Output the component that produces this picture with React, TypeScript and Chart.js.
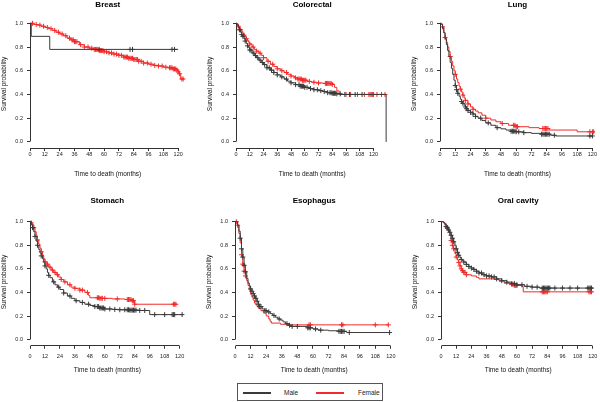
import React, { useEffect, useRef } from 'react';
import { Chart, registerables } from 'chart.js';

Chart.register(...registerables);

const FONT = '"Liberation Sans", Arial, Helvetica, sans-serif';
const MALE_COLOR = '#3a3a3a';
const FEMALE_COLOR = '#f22a2a';

const xTickValues = [0, 12, 24, 36, 48, 60, 72, 84, 96, 108, 120];
const yTickValues = [0, 0.2, 0.4, 0.6, 0.8, 1.0];
const panelTitles = ['Breast', 'Colorectal', 'Lung', 'Stomach', 'Esophagus', 'Oral cavity'];
const groupLabels = ['Male', 'Female'];
const xAxisTitle = 'Time to death (months)';
const yAxisTitle = 'Survival probability';

// ---- Breast ----
const breastMaleTime = [0, 1, 16, 120];
const breastMaleSurv = [1, 0.89, 0.78, 0.78];
const breastMaleCensor = [56, 81, 83, 115, 117];
const breastFemaleTime = [0, 3, 6, 9, 12, 15, 18, 21, 24, 27, 30, 33, 36, 40, 44, 48, 52, 56, 60, 64, 68, 72, 76, 80, 84, 88, 92, 96, 100, 104, 108, 112, 116, 119, 120, 121, 122, 124];
const breastFemaleSurv = [1, 0.99, 0.985, 0.975, 0.965, 0.955, 0.94, 0.925, 0.91, 0.895, 0.875, 0.86, 0.845, 0.82, 0.8, 0.79, 0.78, 0.77, 0.76, 0.75, 0.74, 0.73, 0.715, 0.705, 0.695, 0.68, 0.665, 0.655, 0.645, 0.64, 0.63, 0.625, 0.615, 0.605, 0.59, 0.575, 0.53, 0.53];
const breastFemaleCensor = [2, 5, 8, 11, 14, 17, 20, 23, 26, 29, 32, 34, 35, 36, 37, 38, 41, 44, 47, 50, 52, 53, 54, 55, 56, 57, 58, 59, 60, 62, 64, 66, 68, 70, 72, 74, 76, 77, 78, 79, 80, 81, 82, 83, 84, 85, 86, 87, 88, 90, 92, 95, 98, 101, 104, 107, 110, 113, 114, 115, 116, 117, 118, 119, 120, 121, 123, 124];

// ---- Colorectal ----
const colorectalMaleTime = [0, 1, 2, 3, 4, 5, 6, 7, 8, 9, 10, 11, 12, 14, 16, 18, 20, 22, 24, 27, 30, 33, 36, 39, 42, 45, 48, 52, 56, 60, 64, 68, 72, 76, 80, 84, 88, 92, 131];
const colorectalMaleSurv = [1, 0.985, 0.965, 0.945, 0.925, 0.905, 0.89, 0.87, 0.85, 0.83, 0.81, 0.795, 0.775, 0.75, 0.728, 0.71, 0.69, 0.67, 0.652, 0.625, 0.605, 0.585, 0.565, 0.548, 0.53, 0.512, 0.498, 0.483, 0.47, 0.46, 0.45, 0.44, 0.432, 0.425, 0.415, 0.41, 0.405, 0.4, 0];
const colorectalMaleCensor = [3, 5, 6, 8, 10, 12, 13, 15, 17, 19, 21, 23, 25, 27, 29, 31, 33, 36, 40, 44, 48, 52, 55, 56, 57, 58, 59, 60, 62, 65, 68, 71, 74, 77, 80, 82, 83, 84, 85, 86, 87, 88, 91, 95, 99, 104, 110];
const colorectalFemaleTime = [0, 1, 2, 3, 4, 5, 6, 7, 8, 9, 10, 11, 12, 14, 16, 18, 20, 22, 24, 27, 30, 33, 36, 39, 42, 45, 48, 51, 54, 58, 62, 66, 70, 76, 84, 86, 88, 90, 131];
const colorectalFemaleSurv = [1, 0.99, 0.975, 0.96, 0.945, 0.93, 0.915, 0.9, 0.885, 0.87, 0.855, 0.84, 0.825, 0.8, 0.78, 0.765, 0.748, 0.73, 0.71, 0.68, 0.655, 0.635, 0.616, 0.6, 0.585, 0.57, 0.555, 0.54, 0.53, 0.52, 0.51, 0.503, 0.497, 0.493, 0.485, 0.46, 0.43, 0.4, 0.4];
const colorectalFemaleCensor = [2, 4, 7, 9, 12, 15, 18, 21, 24, 28, 32, 36, 40, 44, 48, 52, 54, 55, 56, 57, 58, 59, 60, 61, 64, 68, 72, 78, 79, 80, 81, 82, 83, 84, 96, 100, 106, 112, 116, 117, 118, 119, 120, 123, 127, 130];

// ---- Lung ----
const lungMaleTime = [0, 1, 2, 3, 4, 5, 6, 7, 8, 9, 10, 11, 12, 13, 14, 15, 16, 17, 18, 19, 20, 21, 22, 24, 26, 28, 30, 33, 36, 40, 44, 48, 52, 56, 60, 66, 72, 80, 87, 91, 120];
const lungMaleSurv = [1, 0.99, 0.96, 0.92, 0.87, 0.82, 0.77, 0.72, 0.67, 0.62, 0.57, 0.52, 0.475, 0.44, 0.41, 0.385, 0.36, 0.34, 0.325, 0.31, 0.295, 0.28, 0.265, 0.25, 0.235, 0.215, 0.2, 0.18, 0.16, 0.14, 0.12, 0.11, 0.1, 0.09, 0.085, 0.078, 0.072, 0.065, 0.056, 0.05, 0.05];
const lungMaleCensor = [12, 13, 14, 17, 18, 20, 21, 22, 24, 26, 28, 32, 38, 45, 56, 57, 58, 59, 60, 62, 66, 80, 81, 82, 83, 84, 85, 86, 90, 118, 120];
const lungFemaleTime = [0, 1, 2, 3, 4, 5, 6, 7, 8, 9, 10, 11, 12, 13, 14, 15, 16, 17, 18, 19, 20, 22, 24, 26, 28, 30, 33, 36, 40, 44, 48, 54, 60, 70, 78, 86, 108, 121];
const lungFemaleSurv = [1, 0.995, 0.97, 0.92, 0.88, 0.84, 0.8, 0.76, 0.72, 0.68, 0.64, 0.6, 0.57, 0.53, 0.5, 0.47, 0.445, 0.42, 0.395, 0.37, 0.35, 0.32, 0.295, 0.275, 0.26, 0.245, 0.225, 0.2, 0.185, 0.17, 0.155, 0.14, 0.128, 0.12, 0.113, 0.1, 0.085, 0.085];
const lungFemaleCensor = [2, 4, 8, 12, 16, 18, 20, 22, 26, 36, 49, 58, 59, 60, 61, 81, 82, 83, 84, 85, 118, 120, 121];

// ---- Stomach ----
const stomachMaleTime = [0, 1, 2, 3, 4, 5, 6, 7, 8, 9, 10, 11, 12, 13, 14, 15, 16, 18, 20, 22, 24, 27, 30, 33, 36, 40, 44, 48, 52, 56, 60, 66, 72, 80, 88, 96, 122];
const stomachMaleSurv = [1, 0.975, 0.95, 0.915, 0.875, 0.835, 0.8, 0.765, 0.735, 0.71, 0.685, 0.655, 0.625, 0.6, 0.57, 0.545, 0.525, 0.49, 0.465, 0.445, 0.425, 0.395, 0.37, 0.35, 0.33, 0.315, 0.3, 0.29, 0.28, 0.268, 0.26, 0.256, 0.253, 0.25, 0.247, 0.212, 0.212];
const stomachMaleCensor = [2, 4, 6, 9, 12, 15, 19, 23, 27, 32, 37, 42, 47, 52, 54, 55, 56, 57, 58, 59, 60, 64, 68, 72, 76, 78, 79, 80, 81, 82, 83, 84, 85, 88, 92, 100, 108, 114, 115, 116, 122];
const stomachFemaleTime = [0, 1, 2, 3, 4, 5, 6, 7, 8, 9, 10, 11, 12, 13, 15, 17, 19, 21, 23, 25, 27, 30, 33, 36, 40, 44, 47, 48, 56, 66, 76, 82, 84, 117];
const stomachFemaleSurv = [1, 0.99, 0.975, 0.95, 0.915, 0.88, 0.845, 0.81, 0.775, 0.745, 0.715, 0.685, 0.66, 0.64, 0.615, 0.59, 0.57, 0.55, 0.53, 0.51, 0.49, 0.465, 0.445, 0.435, 0.42, 0.4, 0.375, 0.355, 0.35, 0.345, 0.34, 0.33, 0.3, 0.3];
const stomachFemaleCensor = [1, 3, 6, 9, 12, 14, 16, 18, 20, 22, 25, 28, 32, 36, 40, 42, 46, 54, 55, 56, 57, 58, 60, 70, 78, 79, 80, 81, 82, 83, 84, 115, 116, 117];

// ---- Esophagus ----
const esophagusMaleTime = [0, 2, 3, 4, 5, 6, 7, 8, 9, 10, 11, 12, 13, 14, 15, 16, 17, 18, 19, 21, 23, 25, 27, 29, 31, 33, 35, 37, 39, 41, 43, 56, 60, 64, 72, 80, 86, 119];
const esophagusMaleSurv = [1, 0.97, 0.92, 0.86, 0.77, 0.7, 0.63, 0.575, 0.52, 0.48, 0.455, 0.43, 0.41, 0.39, 0.37, 0.35, 0.325, 0.3, 0.28, 0.26, 0.245, 0.235, 0.22, 0.205, 0.19, 0.175, 0.165, 0.15, 0.135, 0.122, 0.112, 0.1, 0.09, 0.08, 0.075, 0.07, 0.06, 0.06];
const esophagusMaleCensor = [4, 5, 6, 7, 8, 12, 13, 14, 15, 16, 17, 18, 19, 20, 23, 24, 26, 30, 34, 40, 42, 44, 48, 56, 57, 58, 62, 66, 80, 81, 82, 83, 84, 88, 119];
const esophagusFemaleTime = [0, 2, 3, 4, 5, 6, 7, 8, 9, 10, 11, 12, 13, 14, 15, 16, 17, 18, 20, 22, 24, 26, 27, 28, 35, 40, 118];
const esophagusFemaleSurv = [1, 0.97, 0.9, 0.82, 0.72, 0.64, 0.58, 0.54, 0.5, 0.46, 0.42, 0.385, 0.36, 0.335, 0.31, 0.295, 0.28, 0.265, 0.245, 0.225, 0.2, 0.175, 0.155, 0.14, 0.13, 0.125, 0.125];
const esophagusFemaleCensor = [1, 2, 5, 6, 7, 8, 57, 58, 82, 83, 108, 118];

// ---- Oral cavity ----
const oralMaleTime = [0, 2, 3, 4, 5, 6, 7, 8, 9, 10, 11, 12, 13, 14, 15, 16, 17, 18, 20, 22, 24, 26, 28, 30, 33, 36, 40, 44, 48, 52, 56, 60, 66, 72, 78, 120];
const oralMaleSurv = [1, 0.99, 0.975, 0.96, 0.945, 0.93, 0.91, 0.885, 0.86, 0.83, 0.8, 0.77, 0.74, 0.715, 0.695, 0.68, 0.668, 0.658, 0.638, 0.62, 0.607, 0.595, 0.58, 0.565, 0.55, 0.54, 0.532, 0.515, 0.5, 0.487, 0.475, 0.465, 0.452, 0.445, 0.437, 0.437];
const oralMaleCensor = [4, 5, 6, 7, 8, 9, 10, 12, 13, 14, 16, 18, 20, 22, 24, 26, 28, 30, 32, 34, 36, 38, 40, 42, 44, 48, 52, 56, 58, 60, 64, 68, 72, 76, 80, 81, 82, 83, 84, 85, 86, 90, 96, 102, 108, 116, 117, 118, 119];
const oralFemaleTime = [0, 2, 3, 4, 5, 6, 7, 8, 9, 10, 11, 12, 13, 14, 15, 16, 17, 18, 20, 24, 28, 30, 42, 46, 50, 54, 58, 64, 65, 119];
const oralFemaleSurv = [1, 0.995, 0.985, 0.97, 0.95, 0.92, 0.885, 0.84, 0.8, 0.77, 0.73, 0.7, 0.675, 0.655, 0.625, 0.6, 0.585, 0.57, 0.55, 0.54, 0.528, 0.515, 0.51, 0.495, 0.478, 0.468, 0.46, 0.45, 0.405, 0.405];
const oralFemaleCensor = [5, 8, 9, 10, 12, 14, 15, 16, 17, 18, 19, 20, 56, 57, 58, 59, 60, 80, 81, 82, 83, 84, 117, 118, 119];

type Series = { t: number[]; s: number[]; c: number[] };

const panelSeries: { male: Series; female: Series }[] = [
  { male: { t: breastMaleTime, s: breastMaleSurv, c: breastMaleCensor }, female: { t: breastFemaleTime, s: breastFemaleSurv, c: breastFemaleCensor } },
  { male: { t: colorectalMaleTime, s: colorectalMaleSurv, c: colorectalMaleCensor }, female: { t: colorectalFemaleTime, s: colorectalFemaleSurv, c: colorectalFemaleCensor } },
  { male: { t: lungMaleTime, s: lungMaleSurv, c: lungMaleCensor }, female: { t: lungFemaleTime, s: lungFemaleSurv, c: lungFemaleCensor } },
  { male: { t: stomachMaleTime, s: stomachMaleSurv, c: stomachMaleCensor }, female: { t: stomachFemaleTime, s: stomachFemaleSurv, c: stomachFemaleCensor } },
  { male: { t: esophagusMaleTime, s: esophagusMaleSurv, c: esophagusMaleCensor }, female: { t: esophagusFemaleTime, s: esophagusFemaleSurv, c: esophagusFemaleCensor } },
  { male: { t: oralMaleTime, s: oralMaleSurv, c: oralMaleCensor }, female: { t: oralFemaleTime, s: oralFemaleSurv, c: oralFemaleCensor } },
];

// ---- layout (pixel geometry, not data) ----
const Y_MIN = -0.052;
const Y_MAX = 1.03;
const ROWS = [
  { top: 0, height: 178, titleCenter: 4.5, y1: 23.3, y0: 141.9, tickPad: 0 },
  { top: 193, height: 181, titleCenter: 201, y1: 221.7, y0: 339.6, tickPad: 4 },
];
const PANELS = [
  { x0: 30, ppm: 1.235, xmax: 126, row: 0 },
  { x0: 236, ppm: 1.146, xmax: 133, row: 0 },
  { x0: 440, ppm: 1.27, xmax: 122, row: 0 },
  { x0: 30, ppm: 1.247, xmax: 124, row: 1 },
  { x0: 235, ppm: 1.299, xmax: 122, row: 1 },
  { x0: 441, ppm: 1.265, xmax: 122, row: 1 },
];
const TITLE_SIZE = 8;

function stepAt(t: number[], s: number[], x: number): number {
  let v = s[0];
  for (let i = 0; i < t.length; i++) if (t[i] <= x) v = s[i];
  return v;
}

function geometry(i: number) {
  const p = PANELS[i];
  const r = ROWS[p.row];
  const ppu = r.y0 - r.y1;
  const cb = r.y0 - Y_MIN * ppu;
  const ct = r.y1 - (Y_MAX - 1) * ppu;
  const L = Math.round(p.x0) - 30;
  const cr = p.x0 + p.xmax * p.ppm;
  const W = Math.ceil(cr - L + 7);
  const padRight = L + W - cr;
  const yW = p.x0 - L;
  const xH = r.top + r.height - cb;
  const tPadTop = r.titleCenter - r.top - TITLE_SIZE / 2;
  const tPadBottom = ct - r.top - tPadTop - TITLE_SIZE;
  return { L, T: r.top, W, H: r.height, padRight, yW, xH, tPadTop, tPadBottom, xmax: p.xmax, tickPad: r.tickPad };
}

function align(p: number) {
  return Math.round(p - 0.5) + 0.5;
}

const rAxisPlugin = {
  id: 'rAxis',
  afterDraw(chart: any) {
    const { ctx, chartArea } = chart;
    const xs = chart.scales.x;
    const ys = chart.scales.y;
    ctx.save();
    ctx.strokeStyle = '#333';
    ctx.lineWidth = 1;
    ctx.beginPath();
    const by = align(chartArea.bottom);
    ctx.moveTo(align(xs.getPixelForValue(xTickValues[0])), by);
    ctx.lineTo(align(xs.getPixelForValue(xTickValues[xTickValues.length - 1])), by);
    const lx = align(chartArea.left);
    ctx.moveTo(lx, align(ys.getPixelForValue(yTickValues[0])));
    ctx.lineTo(lx, align(ys.getPixelForValue(yTickValues[yTickValues.length - 1])));
    ctx.stroke();
    ctx.restore();
  },
};

function Panel({ index }: { index: number }) {
  const ref = useRef<HTMLCanvasElement | null>(null);
  const g = geometry(index);
  useEffect(() => {
    if (!ref.current) return;
    const series = panelSeries[index];
    const groups: [Series, string, string][] = [
      [series.male, MALE_COLOR, groupLabels[0]],
      [series.female, FEMALE_COLOR, groupLabels[1]],
    ];
    const datasets: any[] = [];
    groups.forEach(([sr, color, label]) => {
      datasets.push({
        label,
        data: sr.t.map((x, i) => ({ x, y: sr.s[i] })),
        showLine: true,
        stepped: true,
        borderColor: color,
        borderWidth: 1,
        pointRadius: 0,
        fill: false,
      });
      datasets.push({
        label: label + ' censored',
        data: sr.c.map((x) => ({ x, y: stepAt(sr.t, sr.s, x) })),
        showLine: false,
        pointStyle: 'cross',
        pointRadius: 2.5,
        borderColor: color,
        backgroundColor: color,
        borderWidth: 1,
      });
    });
    const tickFont = { family: FONT, size: 5.5 };
    const chart = new Chart(ref.current, {
      type: 'scatter',
      data: { datasets },
      options: {
        responsive: false,
        animation: false,
        devicePixelRatio: 1,
        layout: { padding: { left: 0, top: 0, right: g.padRight, bottom: 0 } },
        plugins: {
          legend: { display: false },
          tooltip: { enabled: false },
          title: {
            display: true,
            text: panelTitles[index],
            fullSize: false,
            color: '#000',
            font: { family: FONT, size: TITLE_SIZE, weight: 'bold', lineHeight: 1 },
            padding: { top: g.tPadTop, bottom: g.tPadBottom },
          },
        },
        scales: {
          x: {
            type: 'linear',
            min: 0,
            max: g.xmax,
            afterBuildTicks: (s: any) => {
              s.ticks = xTickValues.map((v) => ({ value: v }));
            },
            afterFit: (s: any) => {
              s.height = g.xH;
            },
            ticks: {
              autoSkip: false,
              maxRotation: 0,
              minRotation: 0,
              padding: g.tickPad,
              color: '#222',
              font: tickFont,
              callback: (v: any) => String(v),
            },
            grid: { display: true, drawOnChartArea: false, drawTicks: true, tickLength: 3, color: '#333' },
            border: { display: false },
            title: {
              display: true,
              text: xAxisTitle,
              color: '#111',
              font: { family: FONT, size: 6.5, lineHeight: 1.2 },
              padding: 0,
            },
          },
          y: {
            type: 'linear',
            min: Y_MIN,
            max: Y_MAX,
            afterBuildTicks: (s: any) => {
              s.ticks = yTickValues.map((v) => ({ value: v }));
            },
            afterFit: (s: any) => {
              s.width = g.yW;
            },
            ticks: {
              padding: 4,
              color: '#222',
              font: tickFont,
              callback: (v: any) => Number(v).toFixed(1),
            },
            grid: { display: true, drawOnChartArea: false, drawTicks: true, tickLength: 3, color: '#333' },
            border: { display: false },
            title: {
              display: true,
              text: yAxisTitle,
              color: '#111',
              font: { family: FONT, size: 6.5, lineHeight: 1.2 },
              padding: 0,
            },
          },
        },
      } as any,
      plugins: [rAxisPlugin],
    });
    return () => chart.destroy();
  }, [index]);
  return (
    <canvas
      ref={ref}
      width={g.W}
      height={g.H}
      style={{ position: 'absolute', left: g.L, top: g.T, width: g.W, height: g.H }}
    />
  );
}

function Legend() {
  const textStyle: React.CSSProperties = {
    position: 'absolute',
    top: 5,
    fontFamily: FONT,
    fontSize: 6.5,
    lineHeight: '8px',
    color: '#222',
    whiteSpace: 'nowrap',
  };
  const lineStyle = (left: number, color: string): React.CSSProperties => ({
    position: 'absolute',
    left,
    top: 8,
    width: 28,
    height: 2,
    background: color,
  });
  return (
    <div
      style={{
        position: 'absolute',
        left: 237,
        top: 383,
        width: 146,
        height: 18,
        border: '1px solid #555',
        boxSizing: 'border-box',
        background: '#fff',
      }}
    >
      <div style={lineStyle(5, MALE_COLOR)} />
      <div style={{ ...textStyle, left: 46 }}>{groupLabels[0]}</div>
      <div style={lineStyle(78, FEMALE_COLOR)} />
      <div style={{ ...textStyle, left: 120 }}>{groupLabels[1]}</div>
    </div>
  );
}

export default function App() {
  return (
    <div
      style={{
        position: 'fixed',
        left: 0,
        top: 0,
        width: 600,
        height: 402,
        overflow: 'hidden',
        background: '#fff',
      }}
    >
      {PANELS.map((_, i) => (
        <Panel key={i} index={i} />
      ))}
      <Legend />
    </div>
  );
}
